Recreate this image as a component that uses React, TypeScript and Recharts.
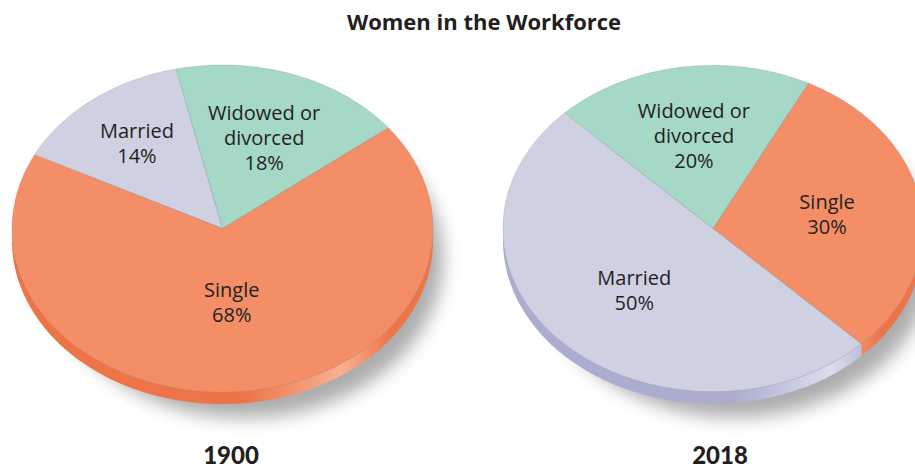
import React from "react";
import { PieChart, Pie, Cell } from "recharts";

const W = 915;
const H = 469;
const RAD = Math.PI / 180;
const TILT = 0.777; // vertical squash of the pie top
const DEPTH = 12; // thickness of the disc edge

const title = "Women in the Workforce";
const years = ["1900", "2018"];

const categories1900 = ["Widowed or divorced", "Married", "Single"];
const values1900 = [18, 14, 68];

const categories2018 = ["Single", "Widowed or divorced", "Married"];
const values2018 = [30, 20, 50];

const topColors: Record<string, string> = {
  Single: "#f48e67",
  Married: "#cfd1e2",
  "Widowed or divorced": "#a6d8c8",
};

// [edge dark, edge highlight]
const edgeColors: Record<string, [string, string]> = {
  Single: ["#ee7347", "#f9b193"],
  Married: ["#aaadcf", "#dcdeee"],
  "Widowed or divorced": ["#86c2b0", "#c4e8dc"],
};

const labelLines: Record<string, string[]> = {
  Single: ["Single"],
  Married: ["Married"],
  "Widowed or divorced": ["Widowed or", "divorced"],
};

// how far out (fraction of the radius) each label sits
const labelRadius1900: Record<string, number> = { "Widowed or divorced": 0.59, Married: 0.66, Single: 0.45 };
const labelRadius2018: Record<string, number> = { "Widowed or divorced": 0.58, Married: 0.53, Single: 0.55 };

const data1900 = categories1900.map((name, i) => ({ name, value: values1900[i] }));
const data2018 = categories2018.map((name, i) => ({ name, value: values2018[i] }));

const pt = (cx: number, cy: number, r: number, a: number, dy = 0) => [
  cx + r * Math.cos(-a * RAD),
  cy + r * TILT * Math.sin(-a * RAD) + dy,
];

const arcPts = (cx: number, cy: number, r: number, a0: number, a1: number, dy = 0) => {
  const steps = Math.max(6, Math.ceil(Math.abs(a1 - a0) / 1.5));
  const out: number[][] = [];
  for (let i = 0; i <= steps; i++) out.push(pt(cx, cy, r, a0 + ((a1 - a0) * i) / steps, dy));
  return out;
};

function TiltedSector(props: any) {
  const { cx, cy, outerRadius: r, startAngle, endAngle, fill } = props;
  const name: string = props.payload?.name ?? props.name;
  const a0 = Math.min(startAngle, endAngle);
  const a1 = Math.max(startAngle, endAngle);

  const top = arcPts(cx, cy, r, a0, a1);
  const topPath = `M${cx},${cy} L` + top.map((p) => `${p[0].toFixed(2)},${p[1].toFixed(2)}`).join(" L") + " Z";

  // edge only shows on the lower half of the disc
  const sides: string[] = [];
  for (let k = -1; k <= 2; k++) {
    const s = Math.max(a0, 180 + 360 * k);
    const e = Math.min(a1, 360 + 360 * k);
    if (e > s) {
      const upper = arcPts(cx, cy, r, s, e);
      const lower = arcPts(cx, cy, r, e, s, DEPTH);
      sides.push(
        "M" + [...upper, ...lower].map((p) => `${p[0].toFixed(2)},${p[1].toFixed(2)}`).join(" L") + " Z"
      );
    }
  }

  const [dark, light] = edgeColors[name] || ["#999", "#ccc"];
  const gid = `edge-${Math.round(cx)}-${name.replace(/\W/g, "")}`;

  return (
    <g>
      <defs>
        <linearGradient id={gid} gradientUnits="userSpaceOnUse" x1={cx - r} y1={0} x2={cx + r} y2={0}>
          <stop offset="0" stopColor={dark} />
          <stop offset="0.55" stopColor={dark} />
          <stop offset="0.78" stopColor={light} />
          <stop offset="0.9" stopColor={dark} />
          <stop offset="1" stopColor={dark} />
        </linearGradient>
      </defs>
      {sides.map((d, i) => (
        <path key={i} d={d} fill={`url(#${gid})`} stroke="none" />
      ))}
      <path d={topPath} fill={fill} stroke="rgba(110,120,125,0.35)" strokeWidth={0.6} />
    </g>
  );
}

const makeLabel = (radii: Record<string, number>) => (p: any) => {
  const { cx, cy, midAngle, outerRadius, value } = p;
  const name: string = p.payload?.name ?? p.name;
  const f = radii[name] ?? 0.55;
  const x = cx + outerRadius * f * Math.cos(-midAngle * RAD);
  const y = cy + outerRadius * TILT * f * Math.sin(-midAngle * RAD);
  const lines = [...(labelLines[name] || [name]), `${value}%`];
  return (
    <text
      x={x}
      y={y}
      textAnchor="middle"
      fill="#231f20"
      fontSize={20}
      fontFamily="'Open Sans', sans-serif"
    >
      {lines.map((l, i) => (
        <tspan key={i} x={x} y={y + (i - (lines.length - 1) / 2) * 25} dominantBaseline="central">
          {l}
        </tspan>
      ))}
    </text>
  );
};

const pies = [
  { cx: 222.5, cy: 228.5, r: 210.5, start: 38, data: data1900, radii: labelRadius1900 },
  { cx: 713, cy: 228.5, r: 210, start: -45, data: data2018, radii: labelRadius2018 },
];

export default function App() {
  return (
    <div style={{ position: "absolute", left: 0, top: 0, width: W, height: H, background: "#fff", overflow: "hidden" }}>
      <svg width={W} height={H} style={{ position: "absolute", left: 0, top: 0 }}>
        <defs>
          <filter id="soft" x="-30%" y="-30%" width="160%" height="160%">
            <feGaussianBlur stdDeviation="9" />
          </filter>
        </defs>
        {pies.map((p, i) => (
          <ellipse
            key={i}
            cx={p.cx + 22}
            cy={p.cy + DEPTH + 18}
            rx={p.r - 12}
            ry={p.r * TILT - 4}
            fill="#000"
            opacity={0.32}
            filter="url(#soft)"
          />
        ))}
      </svg>
      <div style={{ position: "absolute", left: 0, top: 0 }}>
        <PieChart width={W} height={H} margin={{ top: 0, right: 0, bottom: 0, left: 0 }}>
          {pies.map((p, i) => (
            <Pie
              key={i}
              data={p.data}
              dataKey="value"
              nameKey="name"
              cx={p.cx}
              cy={p.cy}
              outerRadius={p.r}
              startAngle={p.start}
              endAngle={p.start + 360}
              isAnimationActive={false}
              shape={TiltedSector}
              activeShape={TiltedSector}
              inactiveShape={TiltedSector}
              label={makeLabel(p.radii)}
              labelLine={false}
              stroke="none"
            >
              {p.data.map((d) => (
                <Cell key={d.name} fill={topColors[d.name]} />
              ))}
            </Pie>
          ))}
        </PieChart>
      </div>
      <div
        style={{
          position: "absolute",
          left: 0,
          width: 968,
          top: 8,
          textAlign: "center",
          fontFamily: "'Open Sans', sans-serif",
          fontWeight: 700,
          fontSize: 22,
          lineHeight: "26px",
          color: "#231f20",
        }}
      >
        {title}
      </div>
      {years.map((y, i) => (
        <div
          key={y}
          style={{
            position: "absolute",
            left: (i === 0 ? 231 : 720) - 60,
            width: 120,
            top: 443,
            textAlign: "center",
            fontFamily: "Lato, sans-serif",
            fontWeight: 900,
            fontSize: 24,
            lineHeight: "24px",
            color: "#231f20",
          }}
        >
          {y}
        </div>
      ))}
    </div>
  );
}
